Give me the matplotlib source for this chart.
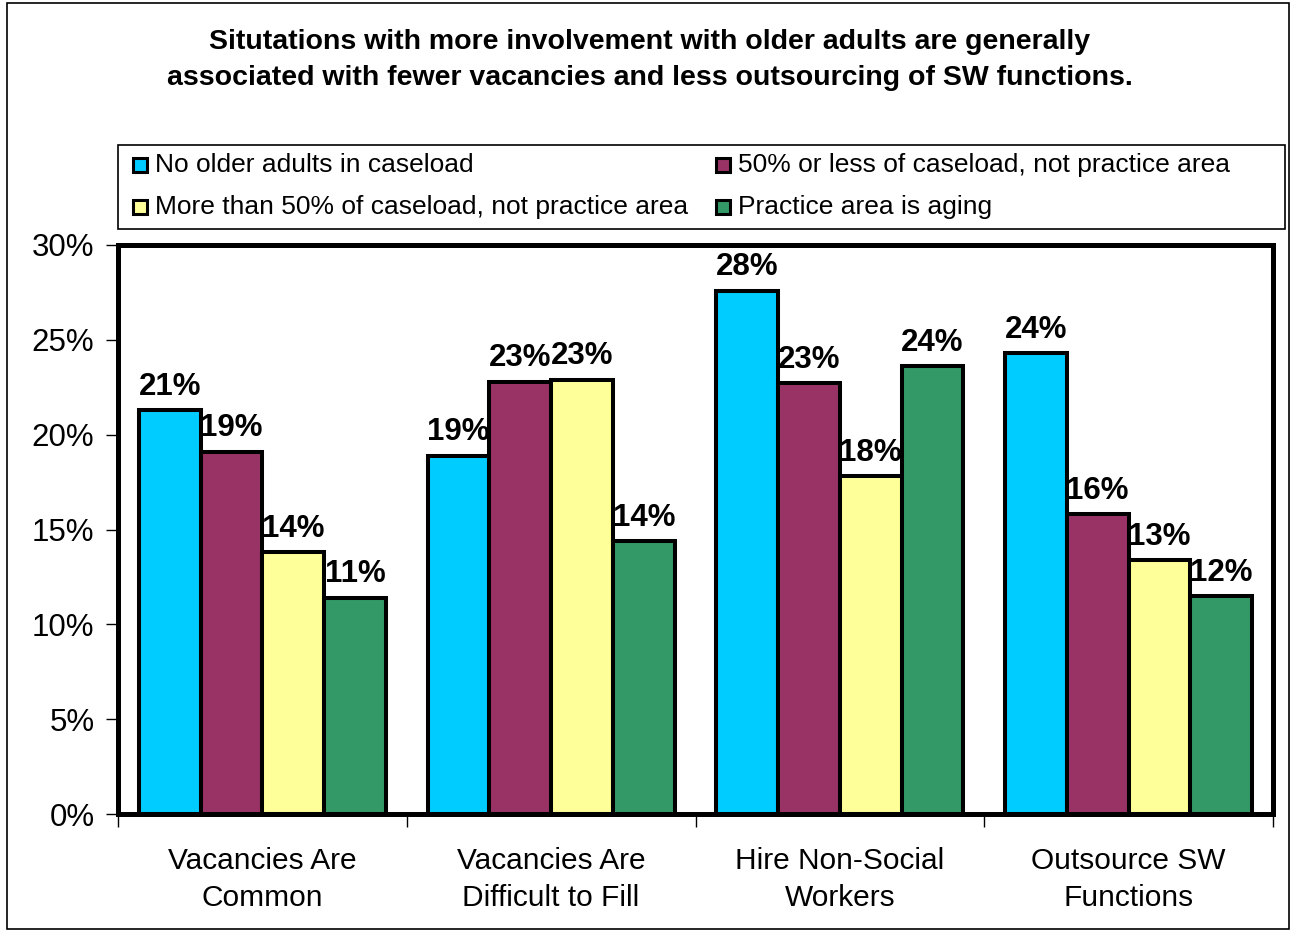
import numpy as np
import matplotlib
matplotlib.use("Agg")
import matplotlib.pyplot as plt
from matplotlib.patches import Rectangle
from matplotlib.ticker import FuncFormatter, FixedLocator

plt.rcParams['font.family'] = ['Liberation Sans', 'DejaVu Sans']

# ---- data ----
categories = ["Vacancies Are\nCommon", "Vacancies Are\nDifficult to Fill",
              "Hire Non-Social\nWorkers", "Outsource SW\nFunctions"]
series_names = ["No older adults in caseload",
                "50% or less of caseload, not practice area",
                "More than 50% of caseload, not practice area",
                "Practice area is aging"]
no_older = [21.3, 18.9, 27.6, 24.3]
half_or_less = [19.1, 22.8, 22.7, 15.8]
more_than_half = [13.8, 22.9, 17.8, 13.4]
aging_practice = [11.4, 14.4, 23.6, 11.5]
series_values = [no_older, half_or_less, more_than_half, aging_practice]
colors = ["#00CCFF", "#993366", "#FFFF99", "#339966"]

title = ("Situtations with more involvement with older adults are generally\n"
         "associated with fewer vacancies and less outsourcing of SW functions.")

W, H = 1291, 932
fig = plt.figure(figsize=(W / 100, H / 100), dpi=100)

# outer chart border
fig.add_artist(Rectangle((7 / W, 3 / H), (1289 - 7) / W, (929 - 3) / H,
                         transform=fig.transFigure, fill=False,
                         edgecolor="black", linewidth=1.2))

ax_l, ax_r, ax_t, ax_b = 118, 1273, 245, 814
ax = fig.add_axes([ax_l / W, 1 - ax_b / H, (ax_r - ax_l) / W, (ax_b - ax_t) / H])

n_groups = len(categories)
bar_w = 0.2139
centers = np.arange(n_groups) + 0.5
for s, (vals, col) in enumerate(zip(series_values, colors)):
    xs = centers + (s - 1.5) * bar_w
    bars = ax.bar(xs, vals, width=bar_w, color=col, edgecolor="black",
                  linewidth=2.9, zorder=3)
    for b, v in zip(bars, vals):
        ax.annotate(f"{int(np.floor(v + 0.5))}%",
                    (b.get_x() + b.get_width() / 2, v),
                    xytext=(0, 6), textcoords="offset points",
                    ha="center", va="bottom", fontsize=22.5,
                    fontweight="bold", zorder=4)

ax.set_xlim(0, n_groups)
ax.set_ylim(0, 30)
ax.yaxis.set_major_locator(FixedLocator(np.arange(0, 31, 5)))
ax.yaxis.set_major_formatter(FuncFormatter(lambda v, p: f"{int(v)}%"))
ax.tick_params(axis="y", labelsize=22.5, length=9, width=1, pad=8)

ax.set_xticks(centers)
ax.set_xticklabels(categories, fontsize=21.5, linespacing=1.38)
ax.set_xticks(np.arange(n_groups + 1), minor=True)
ax.tick_params(axis="x", which="major", length=0, pad=24)
ax.tick_params(axis="x", which="minor", length=9, width=1, direction="out")

for sp in ax.spines.values():
    sp.set_linewidth(3.6)
    sp.set_color("black")
    sp.set_zorder(5)

# title
fig.text(650 / W, 1 - 60 / H, title, ha="center", va="center",
         fontsize=20.5, fontweight="bold", linespacing=1.5)

# legend box with swatches
lg_l, lg_r, lg_t, lg_b = 118, 1285, 145, 229
fig.add_artist(Rectangle((lg_l / W, 1 - lg_b / H), (lg_r - lg_l) / W,
                         (lg_b - lg_t) / H, transform=fig.transFigure,
                         fill=True, facecolor="white", edgecolor="black",
                         linewidth=1.2))
slots = [(133, 165), (716, 165), (133, 207), (716, 207)]
sw = 14
for (x, y), name, col in zip(slots, series_names, colors):
    fig.add_artist(Rectangle((x / W, 1 - (y + sw / 2) / H), sw / W, sw / H,
                             transform=fig.transFigure, facecolor=col,
                             edgecolor="black", linewidth=2.2))
    fig.text((x + sw + 8) / W, 1 - y / H, name, ha="left", va="center",
             fontsize=19)

fig.savefig("out.png", dpi=100)
